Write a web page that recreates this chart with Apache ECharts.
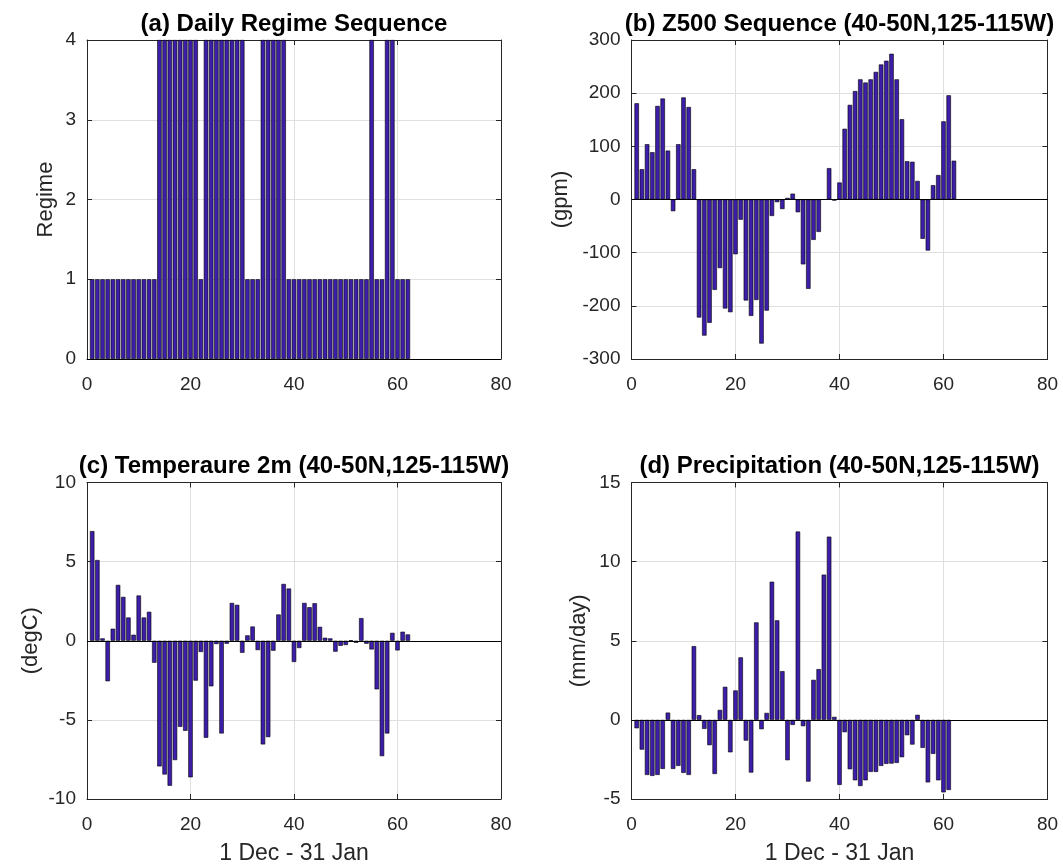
<!DOCTYPE html>
<html>
<head>
<meta charset="utf-8">
<script src="https://cdn.jsdelivr.net/npm/echarts@6/dist/echarts.min.js"></script>
<style>
  html, body { margin: 0; padding: 0; background: #ffffff; }
  #chart { width: 1063px; height: 867px; }
</style>
</head>
<body>
<div id="chart"></div>
<script>
// Day index, 1 Dec .. 31 Jan
const days = [1,2,3,4,5,6,7,8,9,10,11,12,13,14,15,16,17,18,19,20,
  21,22,23,24,25,26,27,28,29,30,31,32,33,34,35,36,37,38,39,40,
  41,42,43,44,45,46,47,48,49,50,51,52,53,54,55,56,57,58,59,60,61,62];

// (a) daily weather regime number
const regime = [1,1,1,1,1,1,1,1,1,1,1,1,1,4,4,4,4,4,4,4,
  4,1,4,4,4,4,4,4,4,4,1,1,1,4,4,4,4,4,1,1,
  1,1,1,1,1,1,1,1,1,1,1,1,1,1,4,1,1,4,4,1,1,1];

// (b) Z500 anomaly (gpm)
const z500 = [181,57,104,89,176,190,92,-22,104,192,
  174,57,-222,-256,-232,-170,-129,-205,-212,-103,
  -38,-190,-219,-189,-271,-209,-31,-5,-18,3,
  11,-24,-122,-168,-76,-61,0,59,-2,32,
  133,178,204,226,220,226,240,254,261,274,
  226,151,72,71,35,-74,-96,27,46,147,196,73];

// (c) 2m temperature anomaly (degC)
const t2m = [6.93,5.1,0.15,-2.56,0.76,3.53,2.77,1.47,0.38,2.86,
  1.47,1.83,-1.39,-7.94,-8.45,-9.16,-7.54,-5.44,-5.69,-8.63,
  -2.52,-0.71,-6.13,-2.88,-0.21,-5.86,-0.19,2.39,2.27,-0.76,
  0.34,0.9,-0.59,-6.55,-6.09,-0.63,1.66,3.59,3.3,-1.34,
  -0.46,2.39,2.12,2.37,0.88,0.19,0.15,-0.69,-0.32,-0.27,
  0.03,-0.13,1.43,-0.19,-0.55,-3.07,-7.29,-5.86,0.5,-0.61,0.57,0.4];

// (d) precipitation anomaly (mm/day)
const precip = [-0.53,-1.88,-3.48,-3.54,-3.48,-3.1,0.46,-3.1,-2.91,-3.35,
  -3.48,4.66,0.3,-0.57,-1.6,-3.42,0.63,2.09,-2.05,1.86,
  3.95,-1.31,-3.33,6.16,-0.59,0.44,8.73,6.29,3.08,-2.55,
  -0.32,11.9,-0.4,-3.9,2.53,3.21,9.18,11.58,0.19,-4.11,
  -0.78,-3.12,-3.82,-4.18,-3.82,-3.29,-3.29,-2.91,-2.78,-2.76,
  -2.72,-2.36,-0.97,-1.56,0.32,-1.77,-3.95,-2.15,-3.82,-4.58,-4.43];

const titles = [
  '(a) Daily Regime Sequence',
  '(b) Z500 Sequence (40-50N,125-115W)',
  '(c) Temperaure 2m (40-50N,125-115W)',
  '(d) Precipitation (40-50N,125-115W)'
];
const yNames = ['Regime', '(gpm)', '(degC)', '(mm/day)'];
const xName = '1 Dec - 31 Jan';
const xRange = { min: 0, max: 80, interval: 20 };
const yRanges = [
  { min: 0, max: 4, interval: 1 },
  { min: -300, max: 300, interval: 100 },
  { min: -10, max: 10, interval: 5 },
  { min: -5, max: 15, interval: 5 }
];
const seriesValues = [regime, z500, t2m, precip];

// layout of the four axes boxes
const boxes = [
  { left: 87,    top: 40,    width: 414, height: 319 },
  { left: 631.5, top: 40,    width: 416, height: 319 },
  { left: 87,    top: 482.5, width: 414, height: 316.5 },
  { left: 631.5, top: 482.5, width: 416, height: 316.5 }
];
const yNameGaps = [30, 60, 45, 42];

const FONT = "'Liberation Sans', Arial, Helvetica, sans-serif";
const AXIS_COLOR = '#262626';
const GRID_COLOR = '#dfdfdf';
const BAR_COLOR = '#3c1eaa';

const grid = [], xAxis = [], yAxis = [], series = [], title = [];

boxes.forEach((b, i) => {
  grid.push(Object.assign({ containLabel: false }, b));
  const tickStyle = { show: true, inside: true, length: 5, lineStyle: { color: AXIS_COLOR, width: 1 } };
  const lineStyle = { show: true, onZero: false, lineStyle: { color: AXIS_COLOR, width: 1 } };

  // bottom x axis with labels and grid lines
  xAxis.push(Object.assign({
    type: 'value', gridIndex: i, position: 'bottom',
    axisLine: lineStyle, axisTick: tickStyle,
    axisLabel: { show: true, margin: 16, fontSize: 19, color: AXIS_COLOR, fontFamily: FONT },
    splitLine: { show: true, lineStyle: { color: GRID_COLOR, width: 1 } },
    name: i >= 2 ? xName : '', nameLocation: 'middle', nameGap: 43, nameMoveOverlap: false,
    nameTextStyle: { fontSize: 23, color: AXIS_COLOR, fontFamily: FONT }
  }, xRange));
  // top x axis: box edge and ticks only
  xAxis.push(Object.assign({
    type: 'value', gridIndex: i, position: 'top',
    axisLine: lineStyle, axisTick: tickStyle,
    axisLabel: { show: false }, splitLine: { show: false }
  }, xRange));

  // left y axis with labels and grid lines
  yAxis.push(Object.assign({
    type: 'value', gridIndex: i, position: 'left',
    axisLine: lineStyle, axisTick: tickStyle,
    axisLabel: { show: true, margin: 11, fontSize: 19, color: AXIS_COLOR, fontFamily: FONT },
    splitLine: { show: true, lineStyle: { color: GRID_COLOR, width: 1 } },
    name: yNames[i], nameLocation: 'middle', nameGap: yNameGaps[i], nameRotate: 90,
    nameMoveOverlap: false,
    nameTextStyle: { fontSize: 22, color: AXIS_COLOR, fontFamily: FONT }
  }, yRanges[i]));
  // right y axis: box edge and ticks only
  yAxis.push(Object.assign({
    type: 'value', gridIndex: i, position: 'right',
    axisLine: lineStyle, axisTick: tickStyle,
    axisLabel: { show: false }, splitLine: { show: false }
  }, yRanges[i]));

  const vals = seriesValues[i];
  const barPx = 0.86 * b.width / (xRange.max - xRange.min);
  series.push({
    type: 'bar',
    xAxisIndex: 2 * i,
    yAxisIndex: 2 * i,
    barWidth: barPx,
    data: vals.map((v, k) => [days[k], v]),
    itemStyle: { color: BAR_COLOR, borderColor: '#000000', borderWidth: 0.6 },
    emphasis: { disabled: true },
    silent: true,
    animation: false,
    markLine: {
      silent: true, symbol: 'none', animation: false,
      label: { show: false },
      lineStyle: { color: '#000000', width: 1, type: 'solid' },
      data: [{ yAxis: 0 }]
    }
  });

  title.push({
    text: titles[i],
    left: b.left + b.width / 2,
    top: b.top - 28,
    textAlign: 'center',
    padding: 0,
    textStyle: { fontSize: 24, fontWeight: 'bold', color: '#000000', fontFamily: FONT }
  });
});

const chart = echarts.init(document.getElementById('chart'), null, { renderer: 'canvas' });
chart.setOption({
  backgroundColor: '#ffffff',
  animation: false,
  title: title,
  grid: grid,
  xAxis: xAxis,
  yAxis: yAxis,
  series: series
});
</script>
</body>
</html>
